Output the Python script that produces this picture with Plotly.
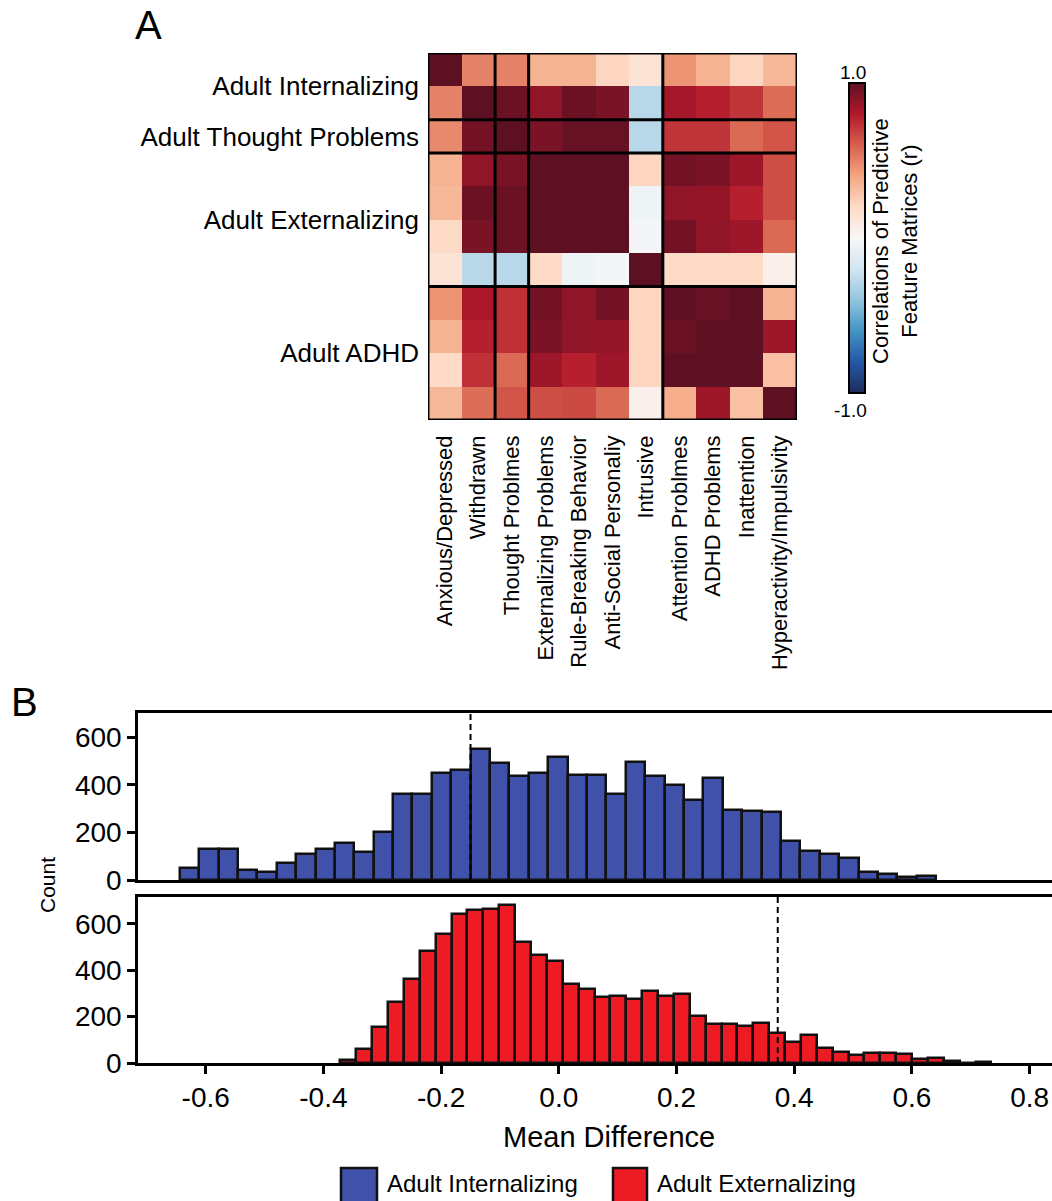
import plotly.graph_objects as go
import numpy as np

# ---------------- Data ----------------
col_labels = ["Anxious/Depressed", "Withdrawn", "Thought Problmes",
              "Externalizing Problems", "Rule-Breaking Behavior", "Anti-Social Personaliy",
              "Intrusive", "Attention Problmes", "ADHD Problems", "Inattention",
              "Hyperactivity/Impulsivity"]
row_groups = ["Adult Internalizing", "Adult Thought Problems", "Adult Externalizing", "Adult ADHD"]
group_sizes = [2, 1, 4, 4]

corr = [
    [1.00, 0.50, 0.50, 0.35, 0.35, 0.22, 0.14, 0.45, 0.35, 0.22, 0.33],
    [0.50, 1.00, 0.97, 0.88, 0.97, 0.93, -0.28, 0.83, 0.78, 0.72, 0.56],
    [0.48, 0.95, 1.00, 0.93, 0.98, 0.98, -0.28, 0.72, 0.72, 0.57, 0.63],
    [0.35, 0.88, 0.93, 1.00, 1.00, 1.00, 0.22, 0.95, 0.93, 0.85, 0.65],
    [0.33, 0.97, 0.97, 1.00, 1.00, 1.00, -0.05, 0.88, 0.87, 0.78, 0.65],
    [0.20, 0.93, 0.97, 1.00, 1.00, 1.00, -0.02, 0.95, 0.88, 0.85, 0.57],
    [0.14, -0.28, -0.28, 0.20, -0.05, -0.02, 1.00, 0.20, 0.20, 0.20, 0.05],
    [0.45, 0.82, 0.73, 0.95, 0.88, 0.95, 0.22, 1.00, 0.98, 1.00, 0.35],
    [0.35, 0.78, 0.73, 0.93, 0.88, 0.87, 0.22, 0.97, 1.00, 1.00, 0.85],
    [0.20, 0.73, 0.57, 0.85, 0.78, 0.85, 0.22, 1.00, 1.00, 1.00, 0.30],
    [0.33, 0.56, 0.63, 0.65, 0.66, 0.57, 0.05, 0.37, 0.85, 0.30, 1.00],
]

int_counts = [52, 131, 131, 42, 32, 70, 108, 129, 157, 119, 201, 364, 364, 449, 462,
              551, 494, 437, 451, 517, 441, 441, 361, 497, 437, 402, 337, 428, 296,
              291, 285, 163, 122, 111, 93, 35, 25, 13, 17]
int_bin_start = -0.644
int_bin_width = 0.03295
int_mean = -0.15

ext_counts = [11, 59, 153, 261, 362, 483, 557, 641, 657, 664, 680, 522, 466, 438, 340,
              317, 284, 287, 277, 308, 288, 296, 201, 168, 168, 159, 172, 128, 90, 119,
              65, 47, 33, 44, 44, 37, 19, 23, 9, 1, 3]
ext_bin_start = -0.371
ext_bin_width = 0.02698
ext_mean = 0.372

x_ticks = [-0.6, -0.4, -0.2, 0.0, 0.2, 0.4, 0.6, 0.8]
y_ticks = [0, 200, 400, 600]

# ---------------- Styles ----------------
FONT = "Liberation Sans, Arial, sans-serif"
W, H = 1052, 1201
BLUE = "#3f51a9"
RED = "#ed1c24"
rdbu_r = [[0.0, "#1d2c5a"], [0.1, "#2458a6"], [0.2, "#4393c3"], [0.3, "#92c5de"],
          [0.4, "#d1e5f0"], [0.5, "#f7f7f7"], [0.6, "#fddbc7"], [0.7, "#f4a582"],
          [0.8, "#d6604d"], [0.9, "#b2182b"], [1.0, "#5e1023"]]


def px_x(v):
    return v / W


def px_y(v):
    return 1 - v / H


fig = go.Figure()

n = len(col_labels)
fig.add_trace(go.Heatmap(
    z=corr, x=list(range(n)), y=list(range(n)), zmin=-1, zmax=1,
    colorscale=rdbu_r, xaxis="x", yaxis="y", hoverongaps=False,
    colorbar=dict(thickness=16, thicknessmode="pixels", len=310, lenmode="pixels",
                  x=px_x(849), xanchor="left", y=px_y(238), yanchor="middle",
                  xpad=0, ypad=0,
                  outlinewidth=2, outlinecolor="black", showticklabels=False, ticks=""),
))

int_x = [int_bin_start + int_bin_width * (i + 0.5) for i in range(len(int_counts))]
ext_x = [ext_bin_start + ext_bin_width * (i + 0.5) for i in range(len(ext_counts))]

fig.add_trace(go.Bar(x=int_x, y=int_counts, width=int_bin_width, xaxis="x2", yaxis="y2",
                     marker=dict(color=BLUE, line=dict(color="#111111", width=2.5)),
                     name="Adult Internalizing", showlegend=False))
fig.add_trace(go.Bar(x=ext_x, y=ext_counts, width=ext_bin_width, xaxis="x3", yaxis="y3",
                     marker=dict(color=RED, line=dict(color="#111111", width=2.5)),
                     name="Adult Externalizing", showlegend=False))

# group boundaries / centers
cum = np.cumsum([0] + group_sizes)
centers = [(cum[i] + cum[i + 1] - 1) / 2 for i in range(len(group_sizes))]
shapes = []
for b in cum[1:-1]:
    shapes.append(dict(type="line", xref="x", yref="y", x0=b - 0.5, x1=b - 0.5,
                       y0=-0.5, y1=n - 0.5, line=dict(color="black", width=3)))
    shapes.append(dict(type="line", xref="x", yref="y", y0=b - 0.5, y1=b - 0.5,
                       x0=-0.5, x1=n - 0.5, line=dict(color="black", width=3)))
shapes.append(dict(type="rect", xref="x", yref="y", x0=-0.5, x1=n - 0.5, y0=-0.5, y1=n - 0.5,
                   line=dict(color="black", width=3)))

# mean lines
shapes.append(dict(type="line", xref="x2", yref="y2 domain", x0=int_mean, x1=int_mean, y0=0, y1=1,
                   line=dict(color="black", width=2, dash="6px,4px"), layer="above"))
shapes.append(dict(type="line", xref="x3", yref="y3 domain", x0=ext_mean, x1=ext_mean, y0=0, y1=1,
                   line=dict(color="black", width=2, dash="6px,4px"), layer="above"))

# legend patches
shapes.append(dict(type="rect", xref="paper", yref="paper", x0=px_x(341), x1=px_x(377),
                   y0=px_y(1168), y1=px_y(1212), fillcolor=BLUE, line=dict(color="#111111", width=2.5)))
shapes.append(dict(type="rect", xref="paper", yref="paper", x0=px_x(613), x1=px_x(647),
                   y0=px_y(1168), y1=px_y(1212), fillcolor=RED, line=dict(color="#111111", width=2.5)))

annotations = [
    dict(text="A", x=px_x(133), y=px_y(25), xref="paper", yref="paper", xanchor="left",
         yanchor="middle", showarrow=False, font=dict(size=40, color="black", family=FONT)),
    dict(text="B", x=px_x(9), y=px_y(702), xref="paper", yref="paper", xanchor="left",
         yanchor="middle", showarrow=False, font=dict(size=40, color="black", family=FONT)),
    dict(text="1.0", x=px_x(853), y=px_y(72), xref="paper", yref="paper", xanchor="center",
         yanchor="middle", showarrow=False, font=dict(size=19, color="black", family=FONT)),
    dict(text="-1.0", x=px_x(850), y=px_y(410), xref="paper", yref="paper", xanchor="center",
         yanchor="middle", showarrow=False, font=dict(size=19, color="black", family=FONT)),
    dict(text="Correlations of Predictive<br>Feature Matrices (r)", x=px_x(895), y=px_y(241),
         xref="paper", yref="paper", xanchor="center", yanchor="middle", textangle=-90,
         showarrow=False, font=dict(size=22, color="black", family=FONT)),
    dict(text="Count", x=px_x(47), y=px_y(885), xref="paper", yref="paper", xanchor="center",
         yanchor="middle", textangle=-90, showarrow=False,
         font=dict(size=21, color="black", family=FONT)),
    dict(text="Mean Difference", x=px_x(609), y=px_y(1137), xref="paper", yref="paper",
         xanchor="center", yanchor="middle", showarrow=False,
         font=dict(size=29, color="black", family=FONT)),
    dict(text="Adult Internalizing", x=px_x(385), y=px_y(1183), xref="paper", yref="paper",
         xanchor="left", yanchor="middle", showarrow=False,
         font=dict(size=24, color="black", family=FONT)),
    dict(text="Adult Externalizing", x=px_x(655), y=px_y(1183), xref="paper", yref="paper",
         xanchor="left", yanchor="middle", showarrow=False,
         font=dict(size=24, color="black", family=FONT)),
]

x_range = [-0.715, 0.838]
axis_line = dict(showline=True, linecolor="black", linewidth=2.5, showgrid=False,
                 zeroline=False, automargin=False)

fig.update_layout(
    width=W, height=H, margin=dict(l=0, r=0, t=0, b=0, autoexpand=False),
    paper_bgcolor="white", plot_bgcolor="white",
    font=dict(family=FONT, color="black"),
    bargap=0, showlegend=False,
    shapes=shapes, annotations=annotations,
    xaxis=dict(domain=[px_x(428), px_x(797)], anchor="y", range=[-0.5, n - 0.5],
               tickvals=list(range(n)), ticktext=col_labels, tickangle=-90, ticks="",
               showgrid=False, zeroline=False, showline=False, ticklabelstandoff=10,
               automargin=False, tickfont=dict(size=22, family=FONT, color="black")),
    yaxis=dict(domain=[px_y(420), px_y(53)], anchor="x", range=[n - 0.5, -0.5],
               tickvals=centers, ticktext=row_groups, ticks="", showgrid=False,
               zeroline=False, showline=False, ticklabelstandoff=8, automargin=False,
               tickfont=dict(size=26, family=FONT, color="black")),
    xaxis2=dict(domain=[px_x(138), 1.0], anchor="y2", range=x_range, mirror=True,
                showticklabels=False, ticks="", **axis_line),
    yaxis2=dict(domain=[px_y(880), px_y(713)], anchor="x2", range=[0, 703],
                tickvals=y_ticks, ticks="outside", ticklen=8, tickwidth=2.5, tickcolor="black",
                tickfont=dict(size=28, family=FONT, color="black"), **axis_line),
    xaxis3=dict(domain=[px_x(138), 1.0], anchor="y3", range=x_range, mirror=True,
                tickvals=x_ticks, ticktext=[f"{v:.1f}" for v in x_ticks],
                ticks="outside", ticklen=8, tickwidth=2.5, tickcolor="black",
                tickfont=dict(size=28, family=FONT, color="black"), **axis_line),
    yaxis3=dict(domain=[px_y(1063), px_y(897)], anchor="x3", range=[0, 715],
                tickvals=y_ticks, ticks="outside", ticklen=8, tickwidth=2.5, tickcolor="black",
                tickfont=dict(size=28, family=FONT, color="black"), **axis_line),
)

fig.write_html("out.html", config={"displayModeBar": False},
               post_script="document.body.style.margin='0px';document.body.style.overflow='hidden';")
